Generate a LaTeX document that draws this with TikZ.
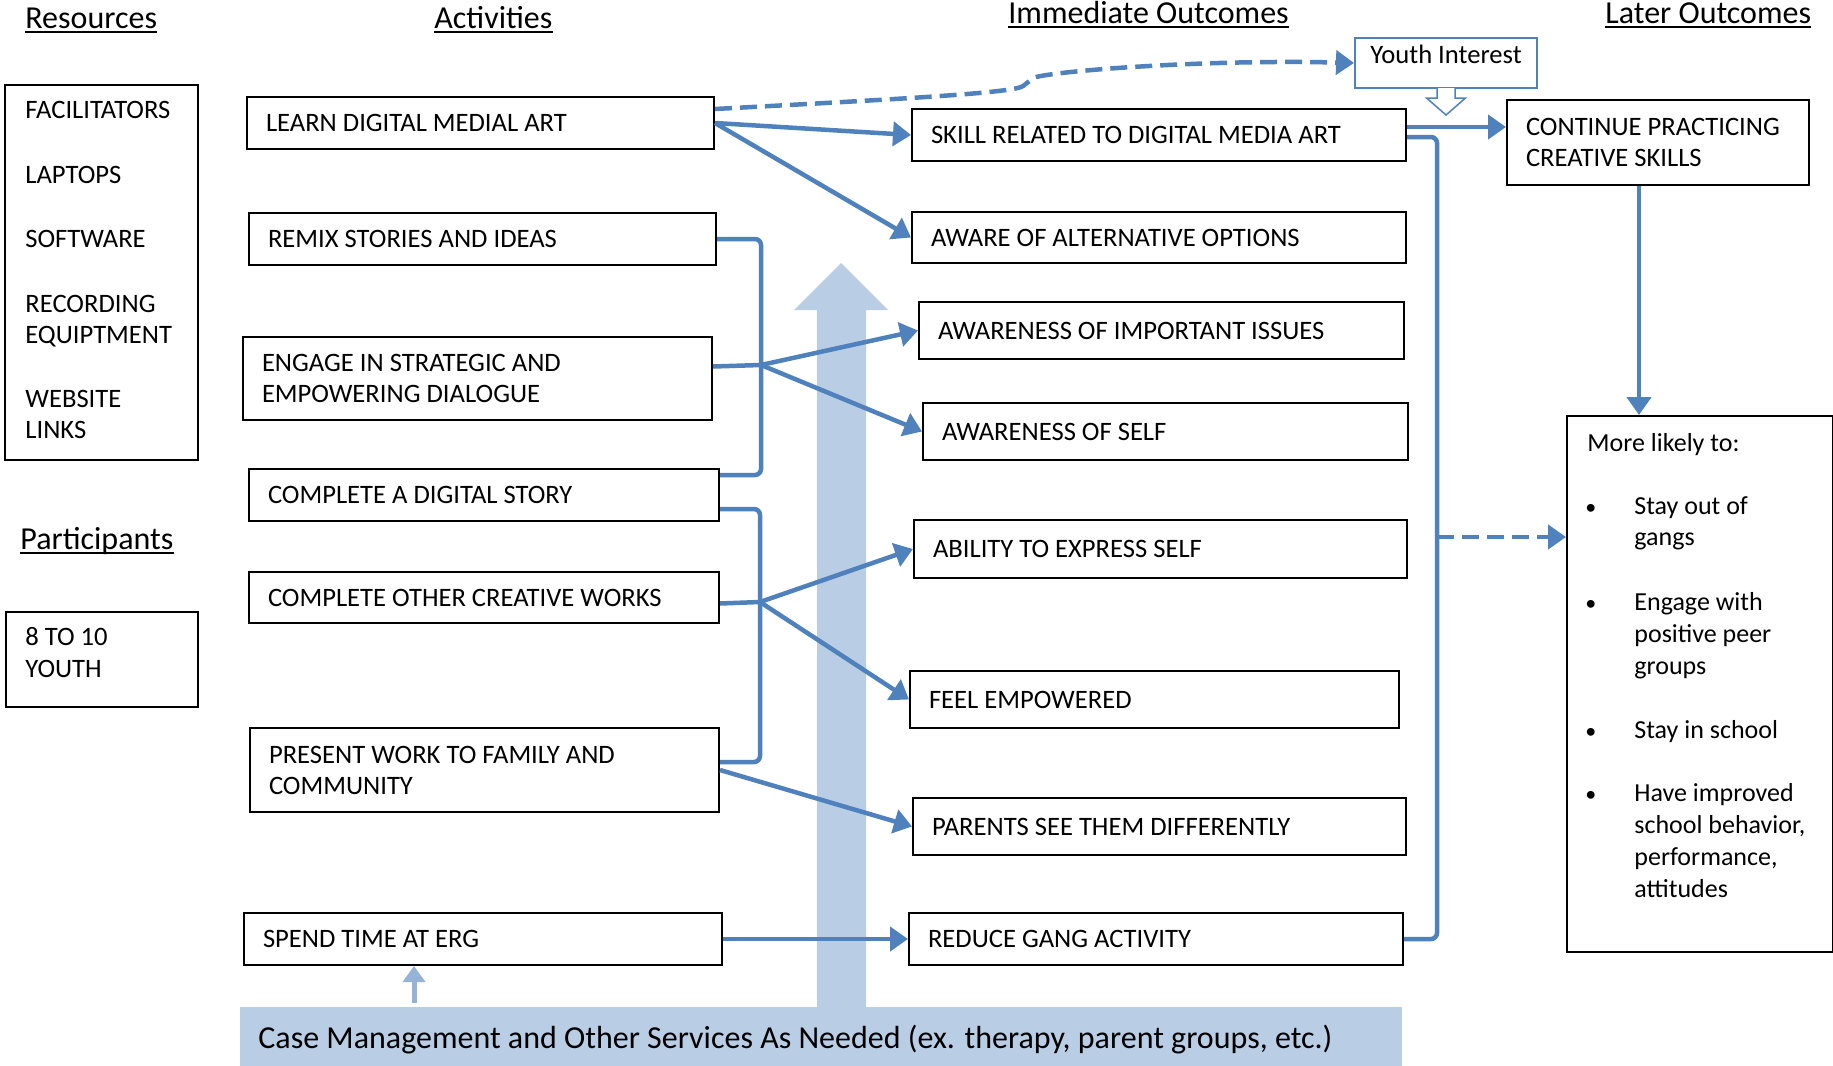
\documentclass[tikz,border=0pt]{standalone}
\usepackage{fontspec}
\setmainfont{Carlito}
\usetikzlibrary{arrows.meta,calc}
\definecolor{lmblue}{HTML}{4F81BD}
\definecolor{lmlight}{HTML}{B9CDE5}
\definecolor{lmsmall}{HTML}{95B3D7}
\newcommand{\lmfont}{\fontsize{13.3}{15.5}\selectfont}
\newcommand{\lmlist}{\fontsize{13}{16}\selectfont}
\newcommand{\lmhead}{\fontsize{16}{19}\selectfont}
\newcommand{\lmbox}[7][]{%
  \pgfmathsetmacro{\lmW}{(#5-#3)/2-19}%
  \pgfmathsetmacro{\lmH}{(#6-#4)/2}%
  \node[box,#1,text width=\lmW pt,minimum height=\lmH pt] (#2) at (#3,#4) {#7};}
\begin{document}
\begin{tikzpicture}[x=0.5pt,y=-0.5pt,
  box/.style={draw=black, line width=1pt, inner xsep=9.5pt, inner ysep=0pt, align=flush left, anchor=north west, font=\lmfont},
  txt/.style={anchor=base west, inner sep=0pt, font=\lmfont},
  lst/.style={anchor=base west, inner sep=0pt, font=\lmlist},
  head/.style={anchor=base west, inner sep=0pt, font=\lmhead},
  uline/.style={draw=black, line width=1pt},
  conn/.style={draw=lmblue, line width=2.25pt, rounded corners=3pt},
  arr/.style={conn, -{Triangle[length=9pt,width=12pt]}},
  dsh/.style={dash pattern=on 8.5pt off 4pt}]
\useasboundingbox (0,0) rectangle (1833,1066);

% background: big light arrow and case management band
\fill[lmlight] (817,1010) -- (817,310) -- (794,310) -- (841,263) -- (888,310) -- (866,310) -- (866,1010) -- cycle;
\node[fill=lmlight, anchor=north west, inner xsep=9pt, inner ysep=0pt, align=flush left,
      text width=563pt, text depth=0pt, minimum height=29.5pt, font=\lmhead] (case) at (240,1007)
      {Case Management and Other Services As Needed (ex. therapy, parent groups, etc.)};

% headers
\node[head] (h1) at (25,28) {Resources};
\node[head] (h2) at (434,28) {Activities};
\node[head] (h3) at (1008,23) {Immediate Outcomes};
\node[head] (h4) at (1605,23) {Later Outcomes};
\node[head] (h5) at (20,549) {Participants};
\foreach \h in {h1,h2,h3,h4,h5}
  \draw[uline] ([yshift=-2pt]\h.base west) -- ([yshift=-2pt]\h.base east);

% resources and participants
\lmbox{res}{4}{84}{197}{459}{}
\foreach \t/\yy [count=\i] in {FACILITATORS/118, LAPTOPS/183, SOFTWARE/247, RECORDING/312, EQUIPTMENT/343, WEBSITE/407, LINKS/438}
  \node[txt] (rt\i) at (25,\yy) {\t};
\lmbox{youth}{5}{611}{197}{706}{}
\node[txt] (yt1) at (25,645) {8 TO 10};
\node[txt] (yt2) at (25,677) {YOUTH};

% activities
\lmbox{learn}{246}{96}{713}{148}{LEARN DIGITAL MEDIAL ART}
\lmbox{remix}{248}{212}{715}{264}{REMIX STORIES AND IDEAS}
\lmbox{engage}{242}{336}{711}{419}{ENGAGE IN STRATEGIC AND\\EMPOWERING DIALOGUE}
\lmbox{story}{248}{468}{718}{520}{COMPLETE A DIGITAL STORY}
\lmbox{other}{248}{571}{718}{622}{COMPLETE OTHER CREATIVE WORKS}
\lmbox{present}{249}{727}{718}{811}{PRESENT WORK TO FAMILY AND\\COMMUNITY}
\lmbox{spend}{243}{912}{721}{964}{SPEND TIME AT ERG}

% immediate outcomes
\lmbox{skill}{911}{108}{1405}{160}{SKILL RELATED TO DIGITAL MEDIA ART}
\lmbox{aware}{911}{211}{1405}{262}{AWARE OF ALTERNATIVE OPTIONS}
\lmbox{issues}{918}{301}{1403}{358}{AWARENESS OF IMPORTANT ISSUES}
\lmbox{self}{922}{402}{1407}{459}{AWARENESS OF SELF}
\lmbox{ability}{913}{519}{1406}{577}{ABILITY TO EXPRESS SELF}
\lmbox{feel}{909}{670}{1398}{727}{FEEL EMPOWERED}
\lmbox{parents}{912}{797}{1405}{854}{PARENTS SEE THEM DIFFERENTLY}
\lmbox{reduce}{908}{912}{1402}{964}{REDUCE GANG ACTIVITY}

% later outcomes
\node[draw=lmblue, line width=1pt, anchor=north west, inner sep=0pt, minimum width=91pt,
      minimum height=25pt] (youthint) at (1354,37) {};
\node[txt] (yitext) at (1370,63) {Youth Interest};
\lmbox{continue}{1506}{99}{1808}{184}{CONTINUE PRACTICING\\CREATIVE SKILLS}
\lmbox{likely}{1566}{415}{1832}{951}{}
\node[lst] (lk0) at (1587,451) {More likely to:};
\foreach \yy [count=\i] in {514,610,738,801}
  \node[lst, font=\fontsize{11}{13}\selectfont] (bul\i) at (1585,\yy) {•};
\foreach \t/\yy [count=\i] in {Stay out of/514, gangs/545, Engage with/610, positive peer/642, groups/674, Stay in school/738, Have improved/801, {school behavior,}/833, {performance,}/865, attitudes/897}
  \node[lst] (lt\i) at (1634,\yy) {\t};

% hollow arrow below Youth Interest
\begin{scope}[shift={(youthint.south)}]
  \filldraw[fill=white, draw=lmblue, line width=0.75pt]
    (-9,-1) -- (-9,9) -- (-19.5,9) -- (0,26) -- (19.5,9) -- (9,9) -- (9,-1);
\end{scope}

% connectors
\coordinate (b1) at (761,365);
\coordinate (b2) at (760,602);
\coordinate (b3) at (1437,537);
\draw[arr, dsh] ([yshift=7pt]learn.east) .. controls (900,99) and (1015,93) .. (1028,82)
   .. controls (1041,72) and (1200,59) .. (youthint.west);
\draw[arr] (learn.east) -- (skill.west);
\draw[arr] (learn.east) -- (aware.west);
\draw[conn] (remix.east) -| (b1) |- ([yshift=10pt]story.east);
\draw[conn] ([yshift=6pt]engage.east) -- (b1);
\draw[arr] (b1) -- (issues.west);
\draw[arr] (b1) -- (self.west);
\draw[conn] ([yshift=-7pt]story.east) -| (b2) |- ([yshift=4pt]present.east);
\draw[conn] ([yshift=-3pt]other.east) -- (b2);
\draw[arr] (b2) -- (ability.west);
\draw[arr] (b2) -- (feel.west);
\draw[arr] (present.east) -- (parents.west);
\draw[arr] (spend.east) -- (reduce.west);
\draw[conn] ([yshift=-1pt]skill.east) -| (b3) |- (reduce.east);
\draw[arr, dsh] (b3) -- (b3 -| likely.west);
\coordinate (sc) at ([yshift=4pt]skill.east);
\draw[arr] (sc) -- (sc -| continue.west);
\coordinate (cs) at ([xshift=-9.5pt]continue.south);
\draw[arr] (cs) -- (cs |- likely.north);
\coordinate (sa) at (414,1003);
\draw[draw=lmsmall, line width=2.5pt, -{Triangle[length=8pt,width=11pt]}] (sa) -- (sa |- spend.south);
\end{tikzpicture}
\end{document}
